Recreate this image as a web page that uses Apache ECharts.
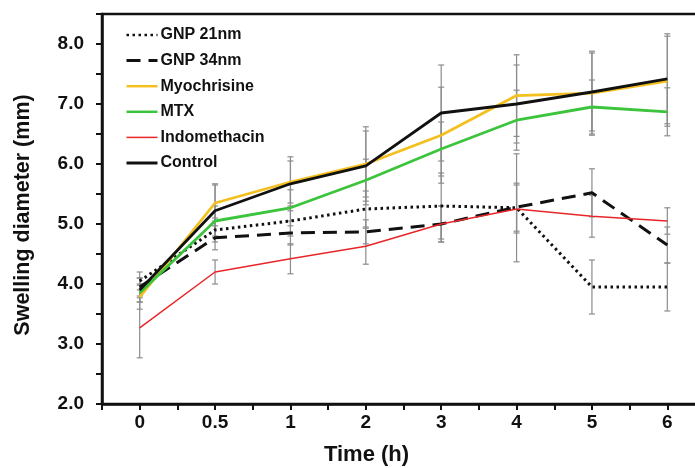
<!DOCTYPE html>
<html>
<head>
<meta charset="utf-8">
<script src="https://cdn.jsdelivr.net/npm/echarts@6/dist/echarts.min.js"></script>
<style>html,body{margin:0;padding:0;background:#fff}#c{width:695px;height:468px}</style>
</head>
<body>
<div id="c"></div>
<script>
var categories = ['0', '0.5', '1', '2', '3', '4', '5', '6'];
var gnp21 = [4.05, 4.90, 5.05, 5.25, 5.30, 5.27, 3.95, 3.95];
var gnp34 = [3.95, 4.77, 4.85, 4.87, 5.00, 5.28, 5.52, 4.65];
var myochrisine = [3.78, 5.35, 5.70, 6.00, 6.48, 7.14, 7.18, 7.38];
var mtx = [3.85, 5.05, 5.27, 5.73, 6.25, 6.73, 6.95, 6.87];
var indomethacin = [3.27, 4.20, 4.42, 4.63, 5.00, 5.25, 5.13, 5.05];
var control = [3.90, 5.22, 5.67, 5.97, 6.85, 7.00, 7.20, 7.42];

var sdGnp21 = [0.15, 0.20, 0.25, 0.30, 0.55, 0.90, 0.45, 0.40];
var sdGnp34 = [0.15, 0.20, 0.20, 0.20, 0.30, 0.40, 0.40, 0.30];
var sdMyo = [0.20, 0.30, 0.35, 0.55, 0.80, 0.68, 0.70, 0.75];
var sdMtx = [0.15, 0.25, 0.30, 0.35, 0.45, 0.50, 0.45, 0.40];
var sdIndo = [0.50, 0.20, 0.25, 0.30, 0.30, 0.40, 0.35, 0.22];
var sdControl = [0.20, 0.45, 0.45, 0.65, 0.80, 0.65, 0.65, 0.75];

var yTicks = [2, 3, 4, 5, 6, 7, 8];

var groups = [
  {name: 'GNP 21nm', data: gnp21, sd: sdGnp21, color: '#111111', width: 3, legendWidth: 2.5, type: [2.5, 3.5]},
  {name: 'GNP 34nm', data: gnp34, sd: sdGnp34, color: '#111111', width: 3, legendWidth: 3, type: [14, 8]},
  {name: 'Myochrisine', data: myochrisine, sd: sdMyo, color: '#F4C020', width: 2.8, legendWidth: 2.5, type: 'solid'},
  {name: 'MTX', data: mtx, sd: sdMtx, color: '#3CC43C', width: 2.8, legendWidth: 2.5, type: 'solid'},
  {name: 'Indomethacin', data: indomethacin, sd: sdIndo, color: '#E8262A', width: 1.5, legendWidth: 1.5, type: 'solid'},
  {name: 'Control', data: control, sd: sdControl, color: '#111111', width: 2.8, legendWidth: 3, type: 'solid'}
];

var errData = [];
groups.forEach(function (g) {
  g.data.forEach(function (v, i) {
    errData.push([i, v - g.sd[i], v + g.sd[i]]);
  });
});

var font = 'Liberation Sans, Arial, sans-serif';

var series = [{
  type: 'custom',
  name: 'err',
  z: 1,
  silent: true,
  data: errData,
  encode: {x: 0, y: [1, 2]},
  renderItem: function (params, api) {
    var x = api.value(0);
    var lo = api.coord([x, api.value(1)]);
    var hi = api.coord([x, api.value(2)]);
    var w = 3;
    var st = {stroke: '#8c8c8c', lineWidth: 1.2};
    return {
      type: 'group',
      children: [
        {type: 'line', shape: {x1: lo[0], y1: lo[1], x2: hi[0], y2: hi[1]}, style: st},
        {type: 'line', shape: {x1: lo[0] - w, y1: lo[1], x2: lo[0] + w, y2: lo[1]}, style: st},
        {type: 'line', shape: {x1: hi[0] - w, y1: hi[1], x2: hi[0] + w, y2: hi[1]}, style: st}
      ]
    };
  }
}];

groups.forEach(function (g) {
  series.push({
    type: 'line',
    name: g.name,
    data: g.data,
    symbol: 'none',
    z: 3,
    lineStyle: {color: g.color, width: g.width, type: g.type, cap: 'butt'},
    itemStyle: {color: g.color}
  });
});

var chart = echarts.init(document.getElementById('c'));
chart.setOption({
  animation: false,
  backgroundColor: '#fff',
  grid: {left: 102, top: 14, right: -10, bottom: 64, outerBoundsMode: 'none', containLabel: false, show: true, borderColor: '#111', borderWidth: 2.5, backgroundColor: 'transparent'},
  legend: {
    orient: 'vertical',
    left: 120,
    top: 22,
    itemWidth: 31,
    itemHeight: 14,
    itemGap: 9.6,
    itemStyle: {opacity: 0},
    data: groups.map(function (g) { return {name: g.name, lineStyle: {width: g.legendWidth}}; }),
    textStyle: {fontFamily: font, fontWeight: 'bold', fontSize: 16, color: '#111', padding: [0, 0, 0, -2]}
  },
  xAxis: [{
    type: 'category',
    data: categories,
    boundaryGap: true,
    name: 'Time (h)',
    nameLocation: 'middle',
    nameGap: 40,
    nameTextStyle: {fontFamily: font, fontWeight: 'bold', fontSize: 22, color: '#111', padding: [0, 74, 0, 0]},
    axisLine: {lineStyle: {color: '#111', width: 2.5}},
    axisTick: {show: true, interval: 0, length: 6, lineStyle: {color: '#111', width: 2}},
    axisLabel: {fontFamily: font, fontWeight: 'bold', fontSize: 19, color: '#111', margin: 9},
    splitLine: {show: false}
  }, {
    type: 'category',
    data: categories,
    position: 'bottom',
    boundaryGap: true,
    axisLine: {show: false},
    axisTick: {show: true, alignWithLabel: true, interval: 0, length: 6, lineStyle: {color: '#111', width: 2}},
    axisLabel: {show: false},
    splitLine: {show: false}
  }],
  yAxis: {
    type: 'value',
    min: 2,
    max: 8.5,
    interval: 0.5,
    name: 'Swelling diameter (mm)',
    nameLocation: 'middle',
    nameGap: 68,
    nameTextStyle: {fontFamily: font, fontWeight: 'bold', fontSize: 21.5, color: '#111', padding: [0, 12, 0, 0]},
    axisLine: {show: true, lineStyle: {color: '#111', width: 2.5}},
    axisTick: {show: true, length: 6, lineStyle: {color: '#111', width: 2}},
    axisLabel: {
      fontFamily: font, fontWeight: 'bold', fontSize: 19, color: '#111', margin: 18,
      formatter: function (v) { return yTicks.indexOf(v) >= 0 ? v.toFixed(1) : ''; }
    },
    splitLine: {show: false}
  },
  series: series
});
</script>
</body>
</html>
